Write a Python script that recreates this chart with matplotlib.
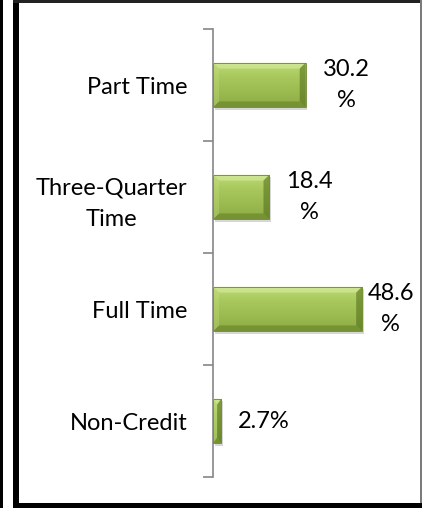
import matplotlib
matplotlib.use("Agg")
import matplotlib.pyplot as plt
import numpy as np
from matplotlib.patches import Rectangle, Polygon
from matplotlib.colors import LinearSegmentedColormap

categories = ["Part Time", "Three-Quarter\nTime", "Full Time", "Non-Credit"]
values = [30.2, 18.4, 48.6, 2.7]

W, H = 422, 508
fig = plt.figure(figsize=(W / 100, H / 100), dpi=100)
plt.rcParams['font.family'] = ['Lato', 'DejaVu Sans']

def fx(px):
    return px / W

def fy(py):
    return 1 - py / H

ax_left, ax_right, ax_top, ax_bot = 213, 410, 29, 477
ax = fig.add_axes([fx(ax_left), fy(ax_bot), fx(ax_right - ax_left), (ax_bot - ax_top) / H])
px_per_unit = 3.07
ax.set_xlim(0, (ax_right - ax_left) / px_per_unit)
n = len(categories)
ax.set_ylim(n - 0.5, -0.5)

y = np.arange(n)
bh = 0.4
base = '#9bbb59'
bars = ax.barh(y, values, height=bh, color=base, zorder=3)

ux = 1 / px_per_unit
uy = 1.0 / ((ax_bot - ax_top) / n)

grad = np.linspace(0, 1, 64).reshape(-1, 1)
cmap = LinearSegmentedColormap.from_list('g', ['#bcda71', '#a8c85d', '#9bba50', '#8dab45'])
for b in bars:
    x0, y0, w, h = b.get_x(), b.get_y(), b.get_width(), b.get_height()
    sh = Rectangle((x0 + 1.5 * ux, y0 + 2.5 * uy), w, h, color='#000000', alpha=0.16, zorder=2, lw=0)
    ax.add_patch(sh)
    im = ax.imshow(grad, cmap=cmap, extent=(x0, x0 + w, y0 + h, y0), aspect='auto', zorder=3.5, interpolation='bilinear')
    im.set_clip_path(b)
    bx = min(6 * ux, w / 2)
    by = min(6 * uy, h / 2)
    top = Polygon([(x0, y0), (x0 + w, y0), (x0 + w - bx, y0 + by), (x0 + bx, y0 + by)],
                  closed=True, color='#d8eda3', alpha=0.6, lw=0, zorder=4)
    bot = Polygon([(x0, y0 + h), (x0 + w, y0 + h), (x0 + w - bx, y0 + h - by), (x0 + bx, y0 + h - by)],
                  closed=True, color='#5f7a22', alpha=0.5, lw=0, zorder=4)
    lft = Polygon([(x0, y0), (x0 + bx, y0 + by), (x0 + bx, y0 + h - by), (x0, y0 + h)],
                  closed=True, color='#c6e080', alpha=0.35, lw=0, zorder=4)
    rgt = Polygon([(x0 + w, y0), (x0 + w - bx, y0 + by), (x0 + w - bx, y0 + h - by), (x0 + w, y0 + h)],
                  closed=True, color='#4f6a18', alpha=0.55, lw=0, zorder=4)
    for p in (top, bot, lft, rgt):
        ax.add_patch(p)
    ax.add_patch(Rectangle((x0, y0), w, h, fill=False, ec='#6d8a2e', lw=0.6, zorder=4.5))

for s in ['top', 'right', 'bottom']:
    ax.spines[s].set_visible(False)
ax.spines['left'].set_color('#868686')
ax.spines['left'].set_linewidth(1.2)
ax.set_xticks([])
ax.set_yticks(np.arange(-0.5, n, 1.0))
ax.set_yticklabels([])
ax.tick_params(axis='y', which='major', length=7, width=1.2, color='#868686', direction='out')
ax.set_yticks(y, minor=True)
ax.set_yticklabels(categories, minor=True, fontsize=17, multialignment='center', linespacing=1.6)
ax.tick_params(axis='y', which='minor', length=0, pad=18.5)

labels = []
for v in values:
    s = f"{v:.1f}%"
    if len(s) > 4:
        s = s[:-1] + "\n%"
    labels.append(s)

texts = []
for b, lab in zip(bars, labels):
    t = ax.annotate(lab, xy=(b.get_width(), b.get_y() + b.get_height() / 2), xytext=(17, 0),
                    textcoords='offset pixels', ha='left', va='center', multialignment='center',
                    fontsize=17, linespacing=1.6, zorder=6, annotation_clip=False)
    texts.append(t)

fig.canvas.draw()
r = fig.canvas.get_renderer()
limit = 414
for t in texts:
    bb = t.get_window_extent(r)
    if bb.x1 > limit:
        dx = bb.x1 - limit
        ox, oy = t.xyann
        t.xyann = (ox - dx, oy)

fig.add_artist(Rectangle((0, 0), fx(3), 1, transform=fig.transFigure, color='black', lw=0))
fig.add_artist(Rectangle((fx(12.5), fy(508)), fx(6), 1, transform=fig.transFigure, color='black', lw=0))
fig.add_artist(Rectangle((fx(12.5), fy(3)), fx(422 - 12.5), 3 / H, transform=fig.transFigure, color='#222222', lw=0))
fig.add_artist(Rectangle((fx(419.5), 0), fx(2.5), 1, transform=fig.transFigure, color='#7a7a7a', lw=0))
fig.add_artist(Rectangle((fx(12.5), 0), fx(422 - 12.5), 5.5 / H, transform=fig.transFigure, color='black', lw=0))

fig.savefig('out.png', dpi=100)
